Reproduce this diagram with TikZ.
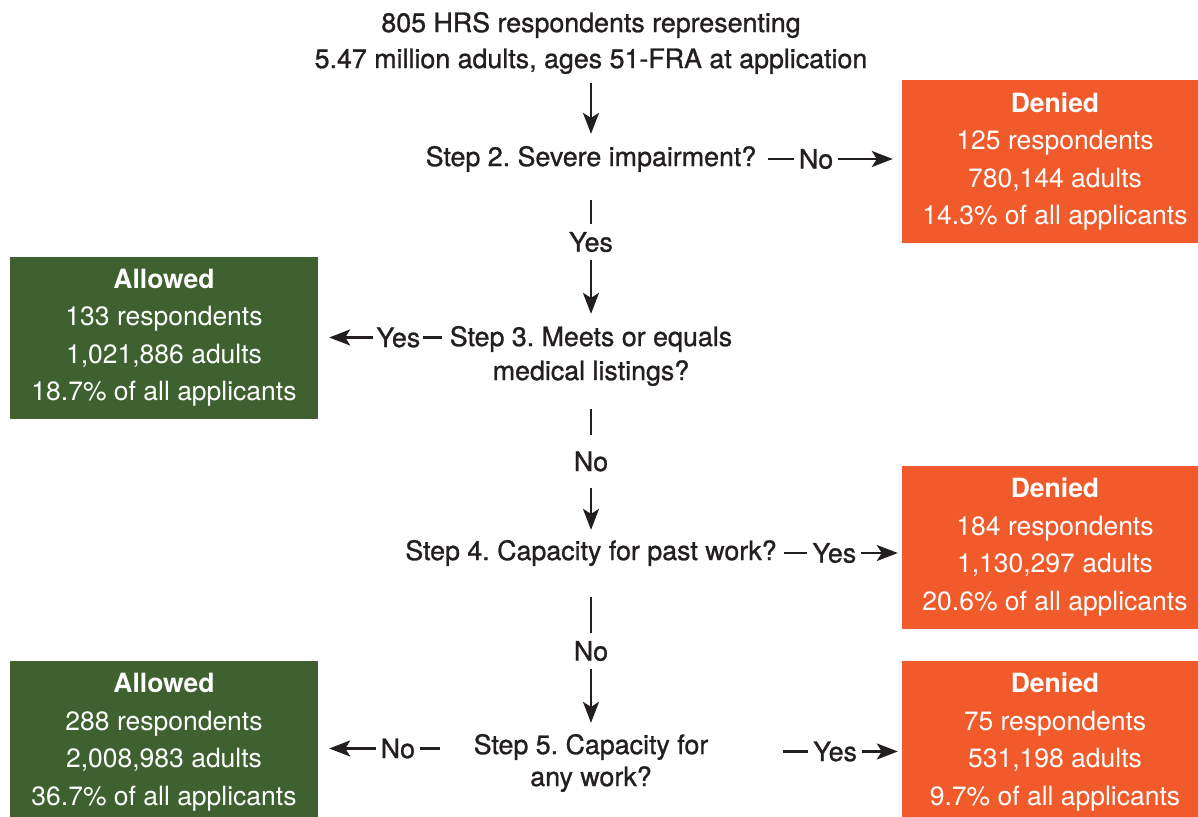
\documentclass[tikz,border=0pt]{standalone}
\usepackage{fontspec}
\setmainfont{TeX Gyre Heros}
\newfontfamily\stepfont{TeX Gyre Heros}[FakeBold = 1]
\usepackage{tikz}
\usetikzlibrary{arrows.meta}
\definecolor{deniedOrange}{HTML}{F15A2B}
\definecolor{allowedGreen}{HTML}{3E612F}
\definecolor{flowGray}{HTML}{231F20}
\frenchspacing

\begin{document}
\begin{tikzpicture}[x = 1pt, y = -1pt,
                    font = \stepfont\fontsize{26.8}{34}\selectfont, text = flowGray,
                    stepText/.style   = {align = center, inner sep = 0pt},
                    resultBox/.style  = {rectangle, align = center, text = white, inner sep = 0pt,
                                         font = \normalfont\fontsize{26.5}{37.5}\selectfont},
                    deniedBox/.style  = {resultBox, fill = deniedOrange, minimum width = 306pt, minimum height = 163pt},
                    allowedBox/.style = {resultBox, fill = allowedGreen, minimum width = 308pt, minimum height = 162pt},
                    flowArrow/.style  = {draw = flowGray, line width = 2.4pt,
                                         -{Stealth[length = 21pt, width = 16pt, inset = 5pt]}},
                    answer/.style     = {fill = white, inner xsep = 5pt, inner ysep = 8pt, text = flowGray}]
    \useasboundingbox (0,0) rectangle (1198,816);

    \node [stepText] (start) at (591, 43) {805 HRS respondents representing\\[2pt]5.47 million adults, ages 51-FRA at application};
    \node [stepText] (step2) at (591, 159) {Step 2. Severe impairment?};
    \node [stepText] (step3) at (591, 356) {Step 3. Meets or equals\\medical listings?};
    \node [stepText] (step4) at (591, 553) {Step 4. Capacity for past work?};
    \node [stepText] (step5) at (591, 763) {Step 5. Capacity for\\[-2pt]any work?};

    \node [deniedBox]  (denied1)  at (1055, 161.5) {\textbf{Denied}\\125 respondents\\780,144 adults\\14.3\% of all applicants};
    \node [allowedBox] (allowed1) at (164, 337.5)  {\textbf{Allowed}\\133 respondents\\1,021,886 adults\\18.7\% of all applicants};
    \node [deniedBox]  (denied2)  at (1055, 547)   {\textbf{Denied}\\184 respondents\\1,130,297 adults\\20.6\% of all applicants};
    \node [allowedBox] (allowed2) at (164, 742)    {\textbf{Allowed}\\288 respondents\\2,008,983 adults\\36.7\% of all applicants};
    \node [deniedBox]  (denied3)  at (1055, 742)   {\textbf{Denied}\\75 respondents\\531,198 adults\\9.7\% of all applicants};

    \draw [flowArrow, shorten < = 9pt, shorten > = 12pt] (start) -- (step2);
    \draw [flowArrow, shorten < = 28pt, shorten > = 12pt] (step2) -- node [answer, pos = 0.455] {Yes} (step3);
    \draw [flowArrow, shorten < = 23pt, shorten > = 10pt] (step3) -- node [answer, pos = 0.49, inner ysep = 17pt] {No} (step4);
    \draw [flowArrow, shorten < = 31pt, shorten > = 11pt] (step4) -- node [answer, pos = 0.506] {No} (step5);

    \draw [flowArrow, shorten < = 12pt, shorten > = 9pt] (step2.east) -- node [answer, pos = 0.41] {No} (step2.east -| denied1.west);
    \draw [flowArrow, shorten < = 8pt, shorten > = 11pt] ([yshift = 40pt]step3.mid west) -- node [answer, pos = 0.39, inner xsep = 3pt] {Yes} ([yshift = 40pt]step3.mid west -| allowed1.east);
    \draw [flowArrow, shorten < = 7pt, shorten > = 4pt] (step4.east) -- node [answer, pos = 0.46] {Yes} (step4.east -| denied2.west);
    \draw [flowArrow, shorten < = 34pt, shorten > = 11pt] ([yshift = 35pt]step5.mid west) -- node [answer, pos = 0.487] {No} ([yshift = 35pt]step5.mid west -| allowed2.east);
    \draw [flowArrow, shorten < = 75pt, shorten > = 4pt] ([yshift = 32pt]step5.mid east) -- node [answer, pos = 0.655] {Yes} ([yshift = 32pt]step5.mid east -| denied3.west);
\end{tikzpicture}
\end{document}
